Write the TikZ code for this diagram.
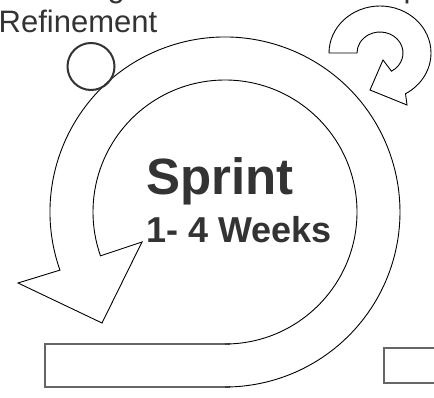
\documentclass[tikz,border=0pt]{standalone}
\usepackage{fontspec}
\setmainfont{Liberation Sans}
\usetikzlibrary{calc}
\definecolor{ink}{HTML}{333333}
\definecolor{boxgray}{HTML}{666666}
\begin{document}
\begin{tikzpicture}[x=1pt,y=1pt,
  outline/.style={draw=black,line width=0.9pt,line join=miter},
  boxline/.style={draw=boxgray,line width=1.3pt},
  tagtext/.style={text=ink,inner sep=0pt,font=\fontsize{31}{31}\selectfont},
  headtext/.style={text=ink,inner sep=0pt,anchor=base,font=\bfseries\fontsize{51}{51}\selectfont},
  subtext/.style={text=ink,inner sep=0pt,anchor=base,font=\bfseries\fontsize{36}{36}\selectfont}]
\useasboundingbox (0,0) rectangle (434,397);
\clip (0,0) rectangle (434,397);

% centre of the sprint loop
\coordinate (c) at (225,185);

% backlog band feeding the loop
\draw[boxline] (230,53) -- (45,53) -- (45,10) -- (230,10);

% sprint loop with its arrowhead
\draw[outline] ($(c)+(-90:132)$)
  arc[start angle=-90,end angle=199.4,radius=132pt]
  -- (142,155) -- (102,74) -- (18,114)
  -- ($(c)+(199.4:175)$)
  arc[start angle=199.4,end angle=-90,radius=175pt];

% increment box
\draw[boxline] (384,14) rectangle (440,49);

% refinement marker
\node[circle,draw=ink,line width=2pt,minimum size=47pt,inner sep=0pt] (refine) at (91,330.5) {};

% daily loop
\coordinate (d) at (380,344);
\draw[outline] (357,344) -- (329,344)
  arc[start angle=180,end angle=-60,x radius=51pt,y radius=47pt]
  -- (407,292) -- (370,307) -- (383,337)
  -- ($(d)+(-60:23pt and 21pt)$)
  arc[start angle=-60,end angle=180,x radius=23pt,y radius=21pt] -- cycle;

% labels
\node[tagtext,anchor=base east] (backlog) at (125,399.5) {Backlog};
\node[tagtext,anchor=base west] (refinement) at (-1.5,364) {Refinement};
\node[tagtext,anchor=base east] (standup) at (421,399.5) {Stand-up};
\node[headtext] (sprint) at (220,202) {Sprint};
\node[subtext] (weeks) at (239,155) {1- 4 Weeks};
\end{tikzpicture}
\end{document}
